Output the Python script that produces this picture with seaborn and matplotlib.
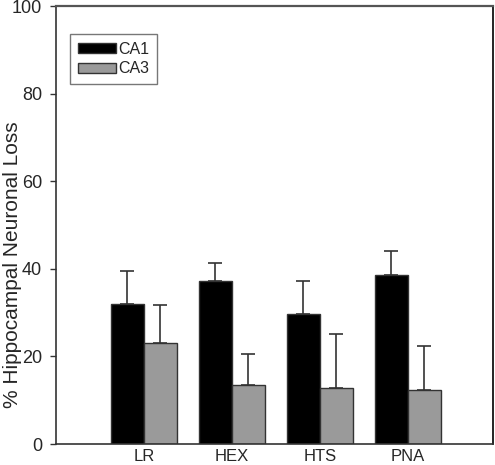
import matplotlib
matplotlib.use("Agg")
import matplotlib.pyplot as plt
import seaborn as sns
import pandas as pd
import numpy as np
from matplotlib.patches import Patch

categories = ["LR", "HEX", "HTS", "PNA"]
ca1_values = [32.0, 37.2, 29.6, 38.5]
ca1_errors = [7.6, 4.2, 7.6, 5.6]
ca3_values = [23.0, 13.5, 12.7, 12.3]
ca3_errors = [8.8, 7.1, 12.4, 10.1]
series = ["CA1", "CA3"]
yticks = [0, 20, 40, 60, 80, 100]

sns.set_theme(style="white")
plt.rcParams['font.family'] = ['Liberation Sans', 'DejaVu Sans']

df = pd.DataFrame({
    "cat": categories * 2,
    "region": ["CA1"] * 4 + ["CA3"] * 4,
    "val": ca1_values + ca3_values,
    "err": ca1_errors + ca3_errors,
})

fig = plt.figure(figsize=(4.95, 4.65), dpi=100)
ax = fig.add_axes([0.113, 0.045, 0.883, 0.942])

sns.barplot(data=df, x="cat", y="val", hue="region", order=categories,
            hue_order=series, palette={"CA1": "black", "CA3": "#9a9a9a"},
            width=0.75, edgecolor="#333333", linewidth=1.0, errorbar=None,
            ax=ax, legend=False)

# error bars (upper only) at bar centres
bars = [p for p in ax.patches if p.get_height() > 0]
for p in bars:
    cx = p.get_x() + p.get_width() / 2
    h = p.get_height()
    match = df[np.isclose(df["val"], h)]
    e = match["err"].iloc[0]
    ax.errorbar([cx], [h], yerr=[[0], [e]], fmt="none", ecolor="#333333",
                elinewidth=1.2, capsize=5, capthick=1.2)

ax.set_xlim(-1.0, 3.97)
ax.set_ylim(0, 100)
ax.set_yticks(yticks)
ax.set_yticklabels([str(t) for t in yticks], fontsize=13)
ax.set_xlabel("")
ax.set_ylabel("% Hippocampal Neuronal Loss", fontsize=15)
ax.yaxis.set_label_coords(-0.078, 0.41)
ax.tick_params(axis="y", which="major", direction="out", length=4, width=1,
               color="#333333", left=True, pad=6)
ax.tick_params(axis="x", length=0, labelsize=12, pad=3.5)
for s in ax.spines.values():
    s.set_visible(True)
    s.set_color("#333333")
    s.set_linewidth(1.2)
ax.spines["right"].set_color("black")
ax.spines["top"].set_color("#555555")
ax.spines["top"].set_linewidth(1.6)

handles = [Patch(facecolor="black", edgecolor="#333333", label="CA1"),
           Patch(facecolor="#9a9a9a", edgecolor="#333333", label="CA3")]
leg = ax.legend(handles=handles, loc="upper left", bbox_to_anchor=(0.032, 0.937),
                fontsize=11.5, frameon=True, fancybox=False, edgecolor="#555555",
                handlelength=2.4, handleheight=0.55, handletextpad=0.1,
                labelspacing=0.3, borderpad=0.5, borderaxespad=0)
leg.get_frame().set_linewidth(1.0)

fig.savefig("out.png", dpi=100)
